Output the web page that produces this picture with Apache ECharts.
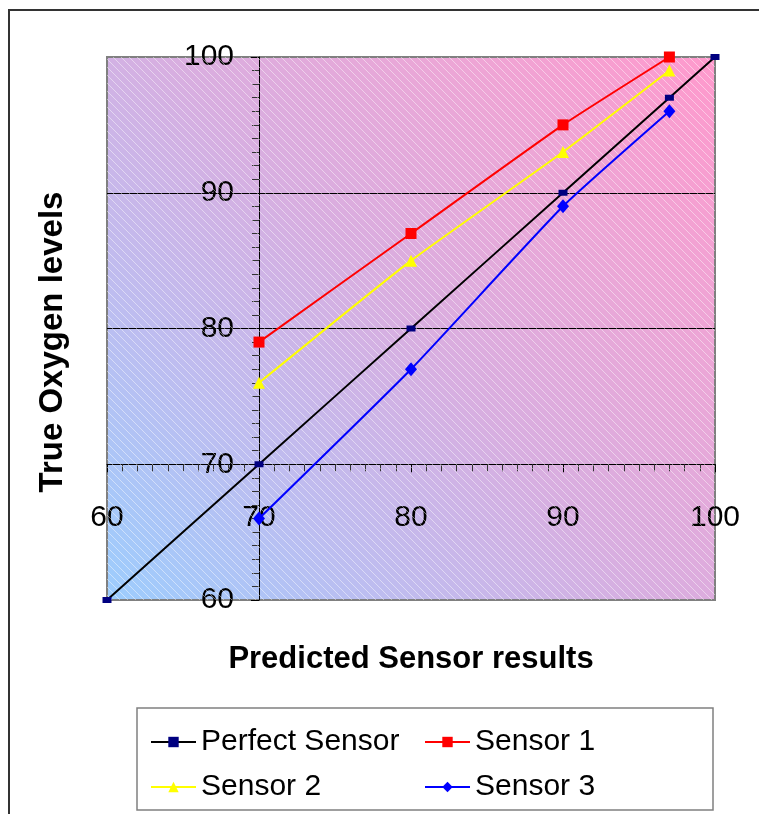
<!DOCTYPE html>
<html>
<head>
<meta charset="utf-8">
<script src="https://cdn.jsdelivr.net/npm/echarts@6/dist/echarts.min.js"></script>
<style>html,body{margin:0;padding:0;background:#fff;}#c{width:759px;height:814px;}</style>
</head>
<body>
<div id="c"></div>
<script>
// ---- data ----
const seriesNames = ['Perfect Sensor', 'Sensor 1', 'Sensor 2', 'Sensor 3'];
const perfectX = [60, 70, 80, 90, 97, 100];
const perfectY = [60, 70, 80, 90, 97, 100];
const sensor1X = [70, 80, 90, 97];
const sensor1Y = [79, 87, 95, 100];
const sensor2X = [70, 80, 90, 97];
const sensor2Y = [76, 85, 93, 99];
const sensor3X = [70, 80, 90, 97];
const sensor3Y = [66, 77, 89, 96];
const axisMin = 60, axisMax = 100, axisStep = 10, axisCross = 70;
const xTitle = 'Predicted Sensor results';
const yTitle = 'True Oxygen levels';

// ---- layout ----
const W = 759, H = 814;
const G = {left: 107, right: 44, top: 57, bottom: 214};
const gw = W - G.left - G.right, gh = H - G.top - G.bottom;
const FONT = '"Liberation Sans", Arial, sans-serif';

const pairs = (xs, ys) => xs.map((x, i) => [x, ys[i]]);

const chart = echarts.init(document.getElementById('c'), null, {renderer: 'canvas'});

// hatch pattern
const pc = document.createElement('canvas');
pc.width = 8; pc.height = 8;
const ctx = pc.getContext('2d');
ctx.strokeStyle = 'rgba(255,255,255,0.45)';
ctx.lineWidth = 1;
ctx.beginPath();
ctx.moveTo(-2, -2); ctx.lineTo(10, 10);
ctx.moveTo(-2, 6); ctx.lineTo(2, 10);
ctx.moveTo(6, -2); ctx.lineTo(10, 2);
ctx.stroke();

const axisCommon = {
  type: 'value', min: axisMin, max: axisMax, interval: axisStep,
  axisLine: {show: true, onZero: false, lineStyle: {color: '#000', width: 1}},
  axisTick: {show: true, length: 8, lineStyle: {color: '#000'}},
  minorTick: {show: true, splitNumber: 10, length: 7, lineStyle: {color: '#333'}},
  axisLabel: {color: '#000', fontSize: 30, fontFamily: FONT},
};

const mkSeries = (name, data, color, lineColor, symbol, size) => ({
  name, type: 'line', data, smooth: 0.15,
  symbol, symbolSize: size,
  itemStyle: {color},
  lineStyle: {color: lineColor, width: 2},
  emphasis: {disabled: true},
  z: 3
});

const legendCommon = {
  orient: 'vertical', top: 720, itemWidth: 45, itemHeight: 13, itemGap: 11,
  textStyle: {fontSize: 30, fontFamily: FONT, color: '#000', lineHeight: 34},
  selectedMode: false
};

chart.setOption({
  animation: false,
  backgroundColor: '#fff',
  grid: {
    left: G.left, right: G.right, top: G.top, bottom: G.bottom,
    show: true, borderColor: '#808080', borderWidth: 2,
    backgroundColor: {type: 'linear', x: 0, y: 1, x2: 1, y2: 0,
      colorStops: [{offset: 0, color: '#9ccdfd'}, {offset: 0.25, color: '#bdbdf0'},
                   {offset: 0.5, color: '#d8aee0'}, {offset: 0.75, color: '#eca6d6'}, {offset: 1, color: '#ff99cc'}]},
    outerBoundsMode: 'none', containLabel: false
  },
  xAxis: Object.assign({}, axisCommon, {
    position: 'bottom',
    offset: -gh * (axisCross - axisMin) / (axisMax - axisMin),
    axisLabel: Object.assign({}, axisCommon.axisLabel, {margin: 38}),
    splitLine: {show: false}
  }),
  yAxis: Object.assign({}, axisCommon, {
    position: 'left',
    offset: -gw * (axisCross - axisMin) / (axisMax - axisMin),
    axisLabel: Object.assign({}, axisCommon.axisLabel, {margin: 25}),
    splitLine: {show: true, showMinLine: false, showMaxLine: false, lineStyle: {color: '#000', width: 1}}
  }),
  legend: [
    Object.assign({}, legendCommon, {left: 145, data: [seriesNames[0], seriesNames[2]]}),
    Object.assign({}, legendCommon, {left: 419, data: [seriesNames[1], seriesNames[3]]})
  ],
  series: [
    mkSeries(seriesNames[0], pairs(perfectX, perfectY), '#000080', '#000000', 'rect', [9, 6]),
    mkSeries(seriesNames[1], pairs(sensor1X, sensor1Y), '#ff0000', '#ff0000', 'rect', 11),
    mkSeries(seriesNames[2], pairs(sensor2X, sensor2Y), '#ffff00', '#ffff00', 'triangle', 12),
    mkSeries(seriesNames[3], pairs(sensor3X, sensor3Y), '#0000ff', '#0000ff', 'diamond', [12, 14])
  ]
});

const tl = chart.convertToPixel({gridIndex: 0}, [axisMin, axisMax]);
const br = chart.convertToPixel({gridIndex: 0}, [axisMax, axisMin]);

chart.setOption({
  graphic: [
    {type: 'rect', silent: true, z: 1, shape: {x: tl[0], y: tl[1], width: br[0] - tl[0], height: br[1] - tl[1]},
     style: {fill: {type: 'pattern', image: pc, repeat: 'repeat'}}},
    {type: 'rect', silent: true, z: 0, shape: {x: 9, y: 10, width: 800, height: 900},
     style: {fill: 'none', stroke: '#333', lineWidth: 2}},
    {type: 'rect', silent: true, z: 0, shape: {x: 137, y: 708, width: 576, height: 102},
     style: {fill: '#fff', stroke: '#808080', lineWidth: 1.5}},
    {type: 'text', silent: true, x: 411, y: 659,
     style: {text: xTitle, font: 'bold 31px ' + FONT, fill: '#000', align: 'center', verticalAlign: 'middle'}},
    {type: 'text', silent: true, x: 53, y: 342, rotation: Math.PI / 2,
     style: {text: yTitle, font: 'bold 33px ' + FONT, fill: '#000', align: 'center', verticalAlign: 'middle'}}
  ]
});
</script>
</body>
</html>
